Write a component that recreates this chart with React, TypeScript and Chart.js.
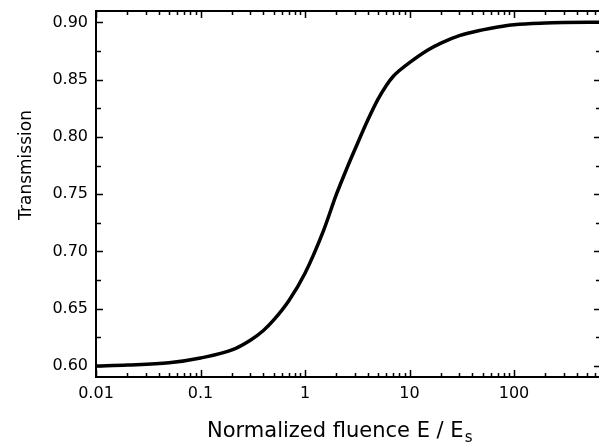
import React, { useEffect, useRef } from "react";
import { Chart, registerables } from "chart.js";

Chart.register(...registerables);

// ---- data ----
const FLUENCE = [0.01, 0.02, 0.05, 0.1, 0.2, 0.3, 0.4, 0.5, 0.7, 1, 1.5, 2, 2.5, 3, 4, 5, 6, 7, 8, 10, 15, 20, 30, 50, 70, 100, 200, 300, 680];
const TRANSMISSION = [0.6, 0.6008, 0.6028, 0.607, 0.614, 0.6225, 0.631, 0.64, 0.657, 0.681, 0.718, 0.75, 0.772, 0.789, 0.815, 0.833, 0.845, 0.853, 0.858, 0.865, 0.876, 0.882, 0.8885, 0.8935, 0.896, 0.898, 0.8995, 0.8999, 0.9002];

const X_TICKS = [0.01, 0.1, 1, 10, 100];
const X_TICK_LABELS = ["0.01", "0.1", "1", "10", "100"];
const Y_TICKS = [0.6, 0.65, 0.7, 0.75, 0.8, 0.85, 0.9];
const Y_TICK_LABELS = ["0.60", "0.65", "0.70", "0.75", "0.80", "0.85", "0.90"];
const Y_MINOR_TICKS = [0.625, 0.675, 0.725, 0.775, 0.825, 0.875];

const X_MIN = 0.01;
const X_MAX = 680;
const Y_MIN = 0.5904;
const Y_MAX = 0.91;

const X_TITLE = "Normalized fluence E / E";
const X_TITLE_SUB = "s";
const Y_TITLE = "Transmission";

const FONT = '"DejaVu Sans", "Liberation Sans", Arial, sans-serif';

const framePlugin = {
  id: "frameTicks",
  afterDatasetsDraw(chart: any) {
    const ctx = chart.ctx as CanvasRenderingContext2D;
    const { left, right, top, bottom } = chart.chartArea;
    const xs = chart.scales.x;
    const ys = chart.scales.y;
    ctx.save();
    ctx.strokeStyle = "#000";
    ctx.fillStyle = "#000";
    ctx.lineWidth = 2;
    ctx.strokeRect(left, top, right - left, bottom - top);

    ctx.lineWidth = 1.5;
    ctx.beginPath();
    // x ticks (inside), bottom and top
    for (const d of X_TICKS) {
      for (let m = 1; m <= 9; m++) {
        const v = d * m;
        if (v > X_MAX) break;
        const px = Math.round(xs.getPixelForValue(v)) + 0.5;
        const len = m === 1 ? 7 : 4;
        ctx.moveTo(px, bottom);
        ctx.lineTo(px, bottom - len);
        ctx.moveTo(px, top);
        ctx.lineTo(px, top + len);
      }
    }
    // y ticks (inside), left and right
    const yAll = [...Y_TICKS.map((v) => [v, 7]), ...Y_MINOR_TICKS.map((v) => [v, 5])];
    for (const [v, len] of yAll) {
      const py = Math.round(ys.getPixelForValue(v)) + 0.5;
      ctx.moveTo(left, py);
      ctx.lineTo(left + len, py);
      ctx.moveTo(right, py);
      ctx.lineTo(right - len, py);
    }
    ctx.stroke();

    // x title with subscript
    ctx.textAlign = "left";
    ctx.textBaseline = "alphabetic";
    ctx.font = `21px ${FONT}`;
    const tx = 207;
    const ty = 437;
    ctx.fillText(X_TITLE, tx, ty);
    const w = ctx.measureText(X_TITLE).width;
    ctx.font = `15px ${FONT}`;
    ctx.fillText(X_TITLE_SUB, tx + w + 1, ty + 5);

    // y title
    ctx.translate(31, 165);
    ctx.rotate(-Math.PI / 2);
    ctx.textAlign = "center";
    ctx.font = `17px ${FONT}`;
    ctx.fillText(Y_TITLE, 0, 0);
    ctx.restore();
  },
};

export default function App() {
  const ref = useRef<HTMLCanvasElement | null>(null);

  useEffect(() => {
    if (!ref.current) return;
    const chart = new Chart(ref.current, {
      type: "line",
      data: {
        datasets: [
          {
            data: FLUENCE.map((x, i) => ({ x, y: TRANSMISSION[i] })),
            borderColor: "#000",
            borderWidth: 3.5,
            pointRadius: 0,
            fill: false,
            cubicInterpolationMode: "monotone",
          },
        ],
      },
      options: {
        animation: false,
        responsive: false,
        devicePixelRatio: 1,
        layout: { padding: { top: 11, right: 2, left: 0, bottom: 0 } },
        plugins: { legend: { display: false }, tooltip: { enabled: false } },
        scales: {
          x: {
            type: "logarithmic",
            min: X_MIN,
            max: X_MAX,
            grid: { display: false, drawTicks: false },
            border: { display: false },
            afterBuildTicks: (scale: any) => {
              scale.ticks = X_TICKS.map((value) => ({ value }));
            },
            afterFit: (scale: any) => {
              scale.height = 68;
              scale.paddingLeft = 0;
              scale.paddingRight = 0;
            },
            ticks: {
              color: "#000",
              padding: 7,
              maxRotation: 0,
              autoSkip: false,
              font: { family: FONT, size: 16 },
              callback: (value: any) => {
                const i = X_TICKS.findIndex((t) => Math.abs(t - Number(value)) < 1e-9 * Math.max(1, t));
                return i >= 0 ? X_TICK_LABELS[i] : "";
              },
            },
          },
          y: {
            type: "linear",
            min: Y_MIN,
            max: Y_MAX,
            grid: { display: false, drawTicks: false },
            border: { display: false },
            afterBuildTicks: (scale: any) => {
              scale.ticks = Y_TICKS.map((value) => ({ value }));
            },
            afterFit: (scale: any) => {
              scale.width = 96;
              scale.paddingTop = 0;
              scale.paddingBottom = 0;
            },
            ticks: {
              color: "#000",
              padding: 8,
              autoSkip: false,
              font: { family: FONT, size: 16 },
              callback: (value: any) => {
                const i = Y_TICKS.findIndex((t) => Math.abs(t - Number(value)) < 1e-6);
                return i >= 0 ? Y_TICK_LABELS[i] : "";
              },
            },
          },
        },
      },
      plugins: [framePlugin],
    } as any);
    return () => chart.destroy();
  }, []);

  return (
    <div
      style={{
        position: "fixed",
        left: 0,
        top: 0,
        width: 599,
        height: 445,
        overflow: "hidden",
        background: "#fff",
      }}
    >
      <canvas ref={ref} width={603} height={445} style={{ display: "block" }} />
    </div>
  );
}
